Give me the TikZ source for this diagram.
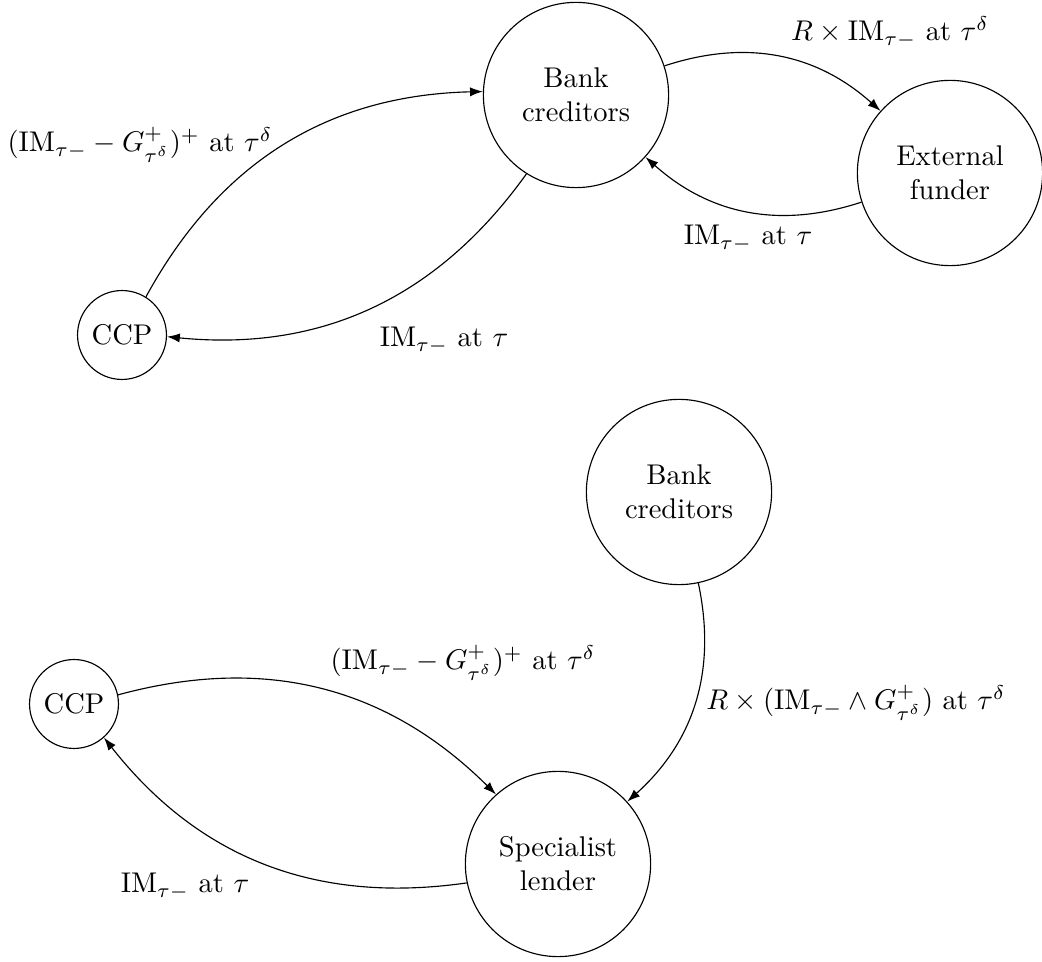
\documentclass[tikz,border=0pt]{standalone}
\usetikzlibrary{arrows.meta}
\begin{document}
\begin{tikzpicture}[x=0.35088pt, y=-0.35088pt,
  big/.style={circle, draw, minimum size=65pt, align=center, inner sep=0pt},
  small/.style={circle, draw},
  lab/.style={anchor=base, inner sep=0pt},
  flow/.style={-{Latex[length=4.5pt,width=3.2pt]}, bend left=30}]
\useasboundingbox (0,0) rectangle (1042,962);
% top diagram
\node[big] (bc1) at (576,95) {Bank\\creditors};
\node[big] (ef) at (950,173) {External\\funder};
\node[small] (ccp1) at (122,335) {CCP};
\draw[flow] (ccp1) to (bc1);
\draw[flow] (bc1) to (ccp1);
\draw[flow] (bc1) to (ef);
\draw[flow] (ef) to (bc1);
\node[lab] (l1) at (140,152) {$(\mathrm{IM}_{\tau-} - G^+_{\tau^\delta})^+$ at $\tau^\delta$};
\node[lab] (l2) at (444,347) {$\mathrm{IM}_{\tau-}$ at $\tau$};
\node[lab] (l3) at (890,41) {$R \times \mathrm{IM}_{\tau-}$ at $\tau^\delta$};
\node[lab] (l4) at (748,245) {$\mathrm{IM}_{\tau-}$ at $\tau$};
% bottom diagram
\node[big] (bc2) at (679,492) {Bank\\creditors};
\node[small] (ccp2) at (74,704) {CCP};
\node[big] (sl) at (558,864) {Specialist\\lender};
\draw[flow] (ccp2) to (sl);
\draw[flow] (sl) to (ccp2);
\draw[flow] (bc2) to (sl);
\node[lab] (l5) at (463,670) {$(\mathrm{IM}_{\tau-} - G^+_{\tau^\delta})^+$ at $\tau^\delta$};
\node[lab] (l6) at (856,710) {$R \times (\mathrm{IM}_{\tau-} \wedge G^+_{\tau^\delta})$ at $\tau^\delta$};
\node[lab] (l7) at (185,893) {$\mathrm{IM}_{\tau-}$ at $\tau$};
\end{tikzpicture}
\end{document}
